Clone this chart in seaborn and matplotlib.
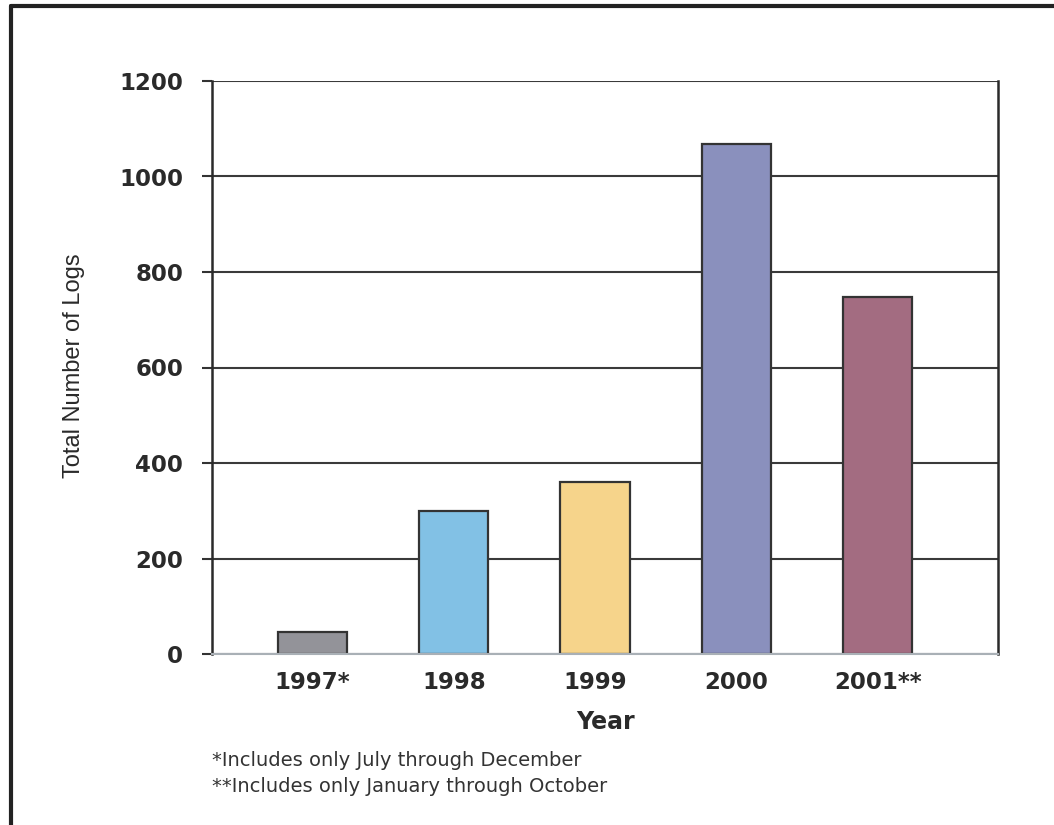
import matplotlib
matplotlib.use("Agg")
import matplotlib.pyplot as plt
from matplotlib.lines import Line2D
import seaborn as sns
import pandas as pd

# Annual log counts
years = ["1997*", "1998", "1999", "2000", "2001**"]
logs = [47, 300, 360, 1068, 748]
bar_colors = ["#939399", "#82c1e5", "#f6d48b", "#8a90bd", "#a36c81"]
y_ticks = [0, 200, 400, 600, 800, 1000, 1200]
footnotes = ["*Includes only July through December",
             "**Includes only January through October"]

sns.set_theme(style="white")
plt.rcParams["font.family"] = ["DejaVu Sans"]

df = pd.DataFrame({"Year": years, "Logs": logs})

fig = plt.figure(figsize=(10.54, 8.25), dpi=100)
ax = fig.add_axes([212 / 1054, 1 - 654 / 825, (998 - 212) / 1054, (654 - 81) / 825])

sns.barplot(data=df, x="Year", y="Logs", hue="Year", palette=bar_colors,
            legend=False, width=0.49, edgecolor="#333333", linewidth=1.6,
            saturation=1, ax=ax, zorder=3)

ax.set_xlim(-0.71, 4.85)
ax.set_ylim(0, 1200)
ax.set_yticks(y_ticks)
ax.set_yticklabels([str(t) for t in y_ticks], fontsize=16.5, fontweight="bold",
                   color="#2a2a2a")
ax.tick_params(axis="y", length=7.2, width=1.5, color="#333333", pad=13.5, left=True)
ax.tick_params(axis="x", length=0, pad=12)
for lbl in ax.get_xticklabels():
    lbl.set_fontsize(16.5)
    lbl.set_fontweight("bold")
    lbl.set_color("#2a2a2a")

# horizontal gridlines
ax.yaxis.grid(True, color="#3a3a3a", linewidth=1.5, zorder=0)
ax.set_axisbelow(True)

for side in ["left", "right"]:
    ax.spines[side].set_visible(True)
    ax.spines[side].set_color("#2a2a2a")
    ax.spines[side].set_linewidth(1.8)
ax.spines["top"].set_visible(False)
ax.spines["bottom"].set_color("#a9b0b6")
ax.spines["bottom"].set_linewidth(1.5)
ax.spines["bottom"].set_zorder(4)

ax.set_xlabel("Year", fontsize=17, fontweight="bold", color="#2a2a2a", labelpad=12)
ax.set_ylabel("")
fig.text(74 / 1054, 1 - 366 / 825, "Total Number of Logs", rotation=90,
         ha="center", va="center", fontsize=17, color="#2a2a2a",
         family=["Liberation Sans Narrow", "Liberation Sans", "DejaVu Sans"])

# footnotes
fig.text(212 / 1054, 1 - 760 / 825, footnotes[0], fontsize=14, color="#333333",
         ha="left", va="center")
fig.text(212 / 1054, 1 - 786 / 825, footnotes[1], fontsize=14, color="#333333",
         ha="left", va="center")

# page frame (left and top edges)
fig.add_artist(Line2D([11 / 1054, 11 / 1054], [0, 1 - 6 / 825],
                      transform=fig.transFigure, color="#222222", linewidth=3))
fig.add_artist(Line2D([11 / 1054, 1], [1 - 6 / 825, 1 - 6 / 825],
                      transform=fig.transFigure, color="#222222", linewidth=3))

fig.savefig("out.png", dpi=100, facecolor="white")
